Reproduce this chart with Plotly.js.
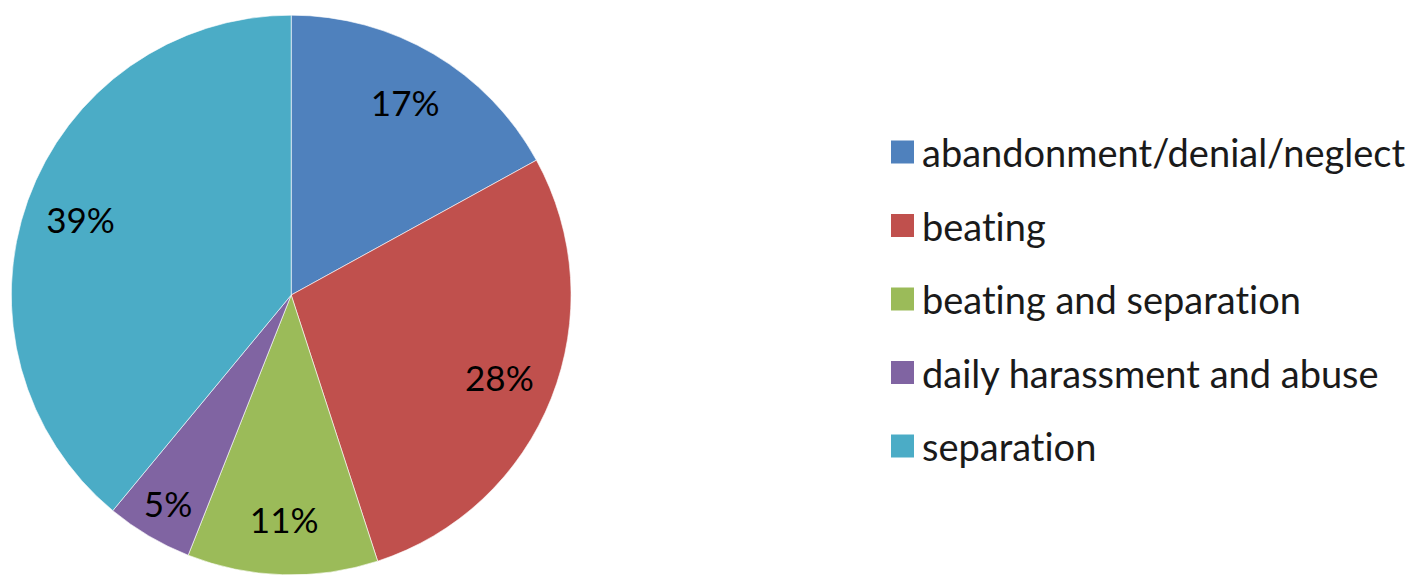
<!DOCTYPE html>
<html>
<head>
<meta charset="utf-8">
<script src="https://cdn.plot.ly/plotly-3.0.1.min.js"></script>
<style>
html,body{margin:0;padding:0;background:#fff;overflow:hidden}
svg text{font-variant-ligatures:none;font-feature-settings:"liga" 0,"clig" 0;}
</style>
</head>
<body>
<div id="chart" style="width:1417px;height:575px"></div>
<script>
const categories = ["abandonment/denial/neglect", "beating", "beating and separation", "daily harassment and abuse", "separation"];
const values = [17, 28, 11, 5, 39];
const colors = ["#4F81BD", "#C0504D", "#9BBB59", "#8064A2", "#4BACC6"];

const W = 1417, H = 575;
const legendX = 891, legendTop = 152, legendStep = 73.5, box = 23, textGap = 6;
const pieDomain = {x: [0.008, 0.403], y: [0, 1 - 15 / H]};

const shapes = [], annotations = [];
categories.forEach((c, i) => {
  const cy = legendTop + i * legendStep;
  shapes.push({
    type: "rect", xref: "paper", yref: "paper",
    x0: legendX / W, x1: (legendX + box) / W,
    y0: 1 - (cy + box / 2) / H, y1: 1 - (cy - box / 2) / H,
    fillcolor: colors[i], line: {width: 0}
  });
  annotations.push({
    xref: "paper", yref: "paper", x: (legendX + box + textGap) / W, y: 1 - cy / H,
    xanchor: "left", yanchor: "middle", showarrow: false, text: c,
    font: {family: "Lato, sans-serif", size: 38, color: "#1a1a1a"}
  });
});

// the pie itself
const pie = {
  type: "pie",
  labels: categories,
  values: values,
  sort: false,
  direction: "clockwise",
  rotation: 0,
  marker: {colors: colors, line: {color: "rgba(255,255,255,0.6)", width: 1}},
  textinfo: "none",
  domain: pieDomain,
  showlegend: false,
  hoverinfo: "label+percent"
};

// transparent ring on top, only to place the percent labels toward the rim
const labelRing = {
  type: "pie",
  labels: categories,
  values: values,
  sort: false,
  direction: "clockwise",
  rotation: 0,
  hole: 0.6,
  marker: {colors: categories.map(() => "rgba(0,0,0,0)"), line: {width: 0}},
  textinfo: "percent",
  textposition: "inside",
  insidetextorientation: "horizontal",
  textfont: {family: "Lato, sans-serif", size: 35, color: "#000"},
  domain: pieDomain,
  showlegend: false,
  hoverinfo: "skip"
};

Plotly.newPlot("chart", [pie, labelRing], {
  width: W, height: H,
  margin: {l: 0, r: 0, t: 0, b: 0},
  paper_bgcolor: "#fff",
  showlegend: false,
  shapes: shapes,
  annotations: annotations
}, {displayModeBar: false, staticPlot: true});
</script>
</body>
</html>
